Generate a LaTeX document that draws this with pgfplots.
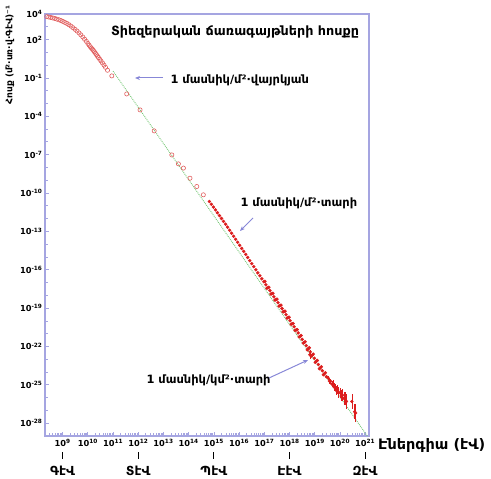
\documentclass[border=0pt]{standalone}
\usepackage{fontspec}
\setmainfont{DejaVu Sans}
\usepackage{pgfplots}
\usepackage{pgfplotstable}
\pgfplotsset{compat=1.18}
\usetikzlibrary{arrows.meta}

\definecolor{frame}{RGB}{165,165,225}
\definecolor{arrowc}{RGB}{135,135,215}
\definecolor{guide}{RGB}{120,200,120}
\definecolor{dotc}{RGB}{220,30,30}
\definecolor{ringc}{RGB}{225,95,95}

\newcommand\tl[1]{10\textsuperscript{#1}}

% minor log ticks 2..9 in every decade (axis runs in log10 units)
\def\minorx{0}
\foreach \n in {8,...,20}{\foreach \k in {0.30103,0.47712,0.60206,0.69897,0.77815,0.84510,0.90309,0.95424}{\pgfmathparse{\n+\k}\xdef\minorx{\minorx,\pgfmathresult}}}

% log10 E (eV), log10 flux
\pgfplotstableread{
x y
8.37 3.79
8.45 3.76
8.53 3.73
8.61 3.69
8.69 3.65
8.77 3.60
8.85 3.55
8.93 3.49
9.01 3.42
9.09 3.34
9.17 3.26
9.25 3.16
9.33 3.05
9.41 2.93
9.49 2.80
9.57 2.67
9.65 2.52
9.72 2.37
9.80 2.20
9.87 2.03
9.94 1.86
10.00 1.70
10.05 1.56
10.10 1.43
10.14 1.33
10.18 1.25
10.22 1.15
10.26 1.04
10.30 0.93
10.34 0.82
10.38 0.71
10.42 0.60
10.47 0.46
10.52 0.33
10.58 0.17
10.64 0.00
10.70 -0.17
10.78 -0.40
10.95 -0.84
11.54 -2.25
12.07 -3.50
12.63 -5.14
13.33 -7.02
13.59 -7.72
13.79 -8.05
14.05 -8.84
14.32 -9.49
14.58 -10.14
}\rings

\pgfplotstableread{
x y
14.82 -10.66
14.90 -10.88
14.98 -11.10
15.06 -11.32
15.14 -11.54
15.22 -11.76
15.30 -11.99
15.38 -12.22
15.46 -12.44
15.54 -12.67
15.62 -12.91
15.70 -13.14
15.78 -13.38
15.86 -13.62
15.94 -13.85
16.02 -14.09
16.10 -14.33
16.18 -14.56
16.26 -14.80
16.34 -15.04
16.42 -15.28
16.50 -15.52
16.58 -15.76
16.66 -16.00
16.74 -16.24
16.82 -16.47
16.90 -16.71
16.98 -16.94
17.06 -17.17
17.14 -17.40
17.22 -17.63
17.30 -17.87
17.38 -18.11
17.46 -18.33
17.54 -18.57
17.62 -18.80
17.70 -19.03
17.78 -19.26
17.86 -19.51
17.94 -19.74
18.02 -19.98
18.10 -20.23
18.18 -20.46
18.26 -20.71
18.34 -20.94
18.42 -21.19
18.50 -21.44
18.58 -21.68
18.66 -21.93
18.74 -22.18
18.82 -22.42
18.90 -22.67
18.98 -22.92
19.06 -23.16
19.14 -23.41
19.22 -23.66
19.30 -23.89
19.38 -24.13
19.46 -24.36
17.02 -16.91
17.10 -17.44
17.18 -17.37
17.26 -17.90
17.34 -17.84
17.42 -18.37
17.50 -18.30
17.58 -18.84
17.66 -18.77
17.74 -19.30
17.82 -19.24
17.90 -19.78
17.98 -19.71
18.06 -20.26
18.14 -20.20
18.22 -20.74
18.30 -20.68
18.38 -21.25
18.46 -21.14
18.54 -21.74
18.62 -21.63
18.70 -22.26
18.78 -22.10
18.86 -22.75
18.94 -22.60
19.02 -23.24
19.10 -23.09
19.18 -23.74
19.26 -23.58
19.34 -24.21
19.42 -24.05
}\dots

\pgfplotstableread{
x y e
18.80 -22.65 0.35
19.52 -24.45 0.15
19.58 -24.70 0.20
19.63 -24.72 0.20
19.68 -24.95 0.25
19.72 -24.90 0.25
19.77 -25.18 0.30
19.82 -25.20 0.30
19.86 -25.45 0.35
19.91 -25.40 0.35
19.95 -25.60 0.40
20.00 -25.62 0.40
20.05 -25.85 0.45
20.10 -25.80 0.45
20.15 -26.05 0.50
20.20 -26.05 0.50
20.26 -26.30 0.55
20.47 -26.30 0.60
20.58 -27.10 0.60
20.62 -27.20 0.70
}\tail

\begin{document}
\begin{tikzpicture}
\begin{axis}[
    scale only axis,
    width=324bp, height=422bp,
    xmin=8.3, xmax=21.15,
    ymin=-29, ymax=4,
    axis line style={frame, line width=1.6bp},
    tick style={frame, line width=0.8bp},
    major tick length=4bp,
    minor tick length=2.5bp,
    tick pos=left,
    tick align=inside,
    xtick={9,10,11,12,13,14,15,16,17,18,19,20,21},
    xticklabels={\tl{9},\tl{10},\tl{11},\tl{12},\tl{13},\tl{14},\tl{15},\tl{16},\tl{17},\tl{18},\tl{19},\tl{20},\tl{21}},
    minor xtick/.expand once=\minorx,
    ytick={4,2,-1,-4,-7,-10,-13,-16,-19,-22,-25,-28},
    yticklabels={\tl{4},\tl{2},\tl{-1},\tl{-4},\tl{-7},\tl{-10},\tl{-13},\tl{-16},\tl{-19},\tl{-22},\tl{-25},\tl{-28}},
    minor ytick={-29,-28,...,4},
    ticklabel style={font=\fontsize{8.3}{9}\selectfont\bfseries, text=black},
    yticklabel style={xshift=1bp},
]
\addplot[guide, densely dotted, line width=0.9bp, no marks] coordinates {(11.0,-0.47) (21.08,-29.0)};
\addplot[only marks, mark=o, mark size=2.1bp, mark options={ringc, line width=0.6bp}] table {\rings};
\addplot[only marks, mark=*, mark size=1.5bp, mark options={dotc, draw=dotc, fill=dotc}] table {\dots};
\addplot[only marks, mark=*, mark size=1.4bp, mark options={dotc, draw=dotc, fill=dotc},
    error bars/.cd, y dir=both, y explicit, error mark=none,
    error bar style={dotc, line width=0.5bp}] table[x=x, y=y, y error=e] {\tail};
\end{axis}

% title and notes
\node[font=\fontsize{12.8}{14}\selectfont\bfseries] at (190bp,404bp) {Տիեզերական ճառագայթների հոսքը};
\node[font=\fontsize{11.5}{12}\selectfont\bfseries, anchor=west] at (122bp,356bp) {1 մասնիկ/մ²·վայրկյան};
\draw[arrowc, line width=1bp, -{Stealth[length=5bp,width=4bp]}] (118bp,358bp) -- (90bp,358bp);
\node[font=\fontsize{11.5}{12}\selectfont\bfseries, anchor=west] at (192bp,233bp) {1 մասնիկ/մ²·տարի};
\draw[arrowc, line width=1bp, -{Stealth[length=5bp,width=4bp]}] (208bp,218bp) -- (195bp,205bp);
\node[font=\fontsize{11.5}{12}\selectfont\bfseries, anchor=west] at (98bp,56bp) {1 մասնիկ/կմ²·տարի};
\draw[arrowc, line width=1bp, -{Stealth[length=5bp,width=4bp]}] (224bp,58bp) -- (263bp,76bp);

% axis titles
\node[font=\fontsize{14.5}{15}\selectfont\bfseries, anchor=west, inner sep=1bp] at (332bp,-10bp) {Էներգիա (էՎ)};
\node[font=\fontsize{9}{10}\selectfont\bfseries, rotate=90] at (-35bp,381bp) {Հոսք (մ²·սռ·վ·ԳէՎ)⁻¹};

% unit names under the decades
\foreach \xx/\uu in {17.64/ԳէՎ, 93.24/ՏէՎ, 168.84/ՊէՎ, 244.44/ԷէՎ, 320.04/ԶէՎ}{
  \draw[black, line width=0.8bp] (\xx bp,-16bp) -- (\xx bp,-23bp);
  \node[font=\fontsize{12.5}{13}\selectfont\bfseries] at (\xx bp,-35bp) {\uu};
}

\pgfresetboundingbox
\path[use as bounding box] (-45bp,-43bp) rectangle (446bp,436bp);
\end{tikzpicture}
\end{document}
